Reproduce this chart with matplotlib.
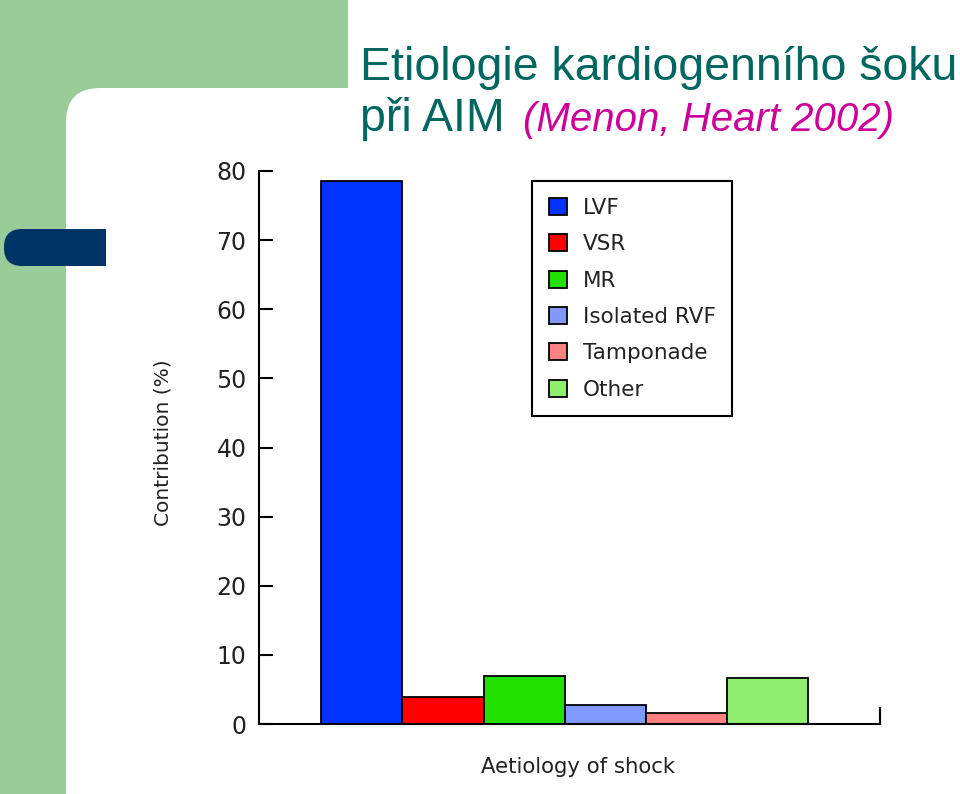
import matplotlib
matplotlib.use("Agg")
import matplotlib.pyplot as plt
from matplotlib.patches import Rectangle, FancyBboxPatch
from matplotlib.transforms import IdentityTransform

plt.rcParams["font.family"] = ["DejaVu Sans"]

categories = ["LVF", "VSR", "MR", "Isolated RVF", "Tamponade", "Other"]
values = [78.5, 3.9, 6.9, 2.8, 1.6, 6.7]
colors = ["#0033FF", "#FF0000", "#22E000", "#8099FF", "#FF8080", "#90EE70"]
yticks = [0, 10, 20, 30, 40, 50, 60, 70, 80]

W, H = 960, 794
fig = plt.figure(figsize=(W / 100, H / 100), dpi=100)
fig.patch.set_facecolor("white")

# slide background decoration (pixel coords, y from bottom), kept behind the axes
px = IdentityTransform()
green = "#99CC99"
navy = "#003366"
deco = [
    Rectangle((0, 0), 66, H, facecolor=green),
    Rectangle((0, H - 130), 348, 130, facecolor=green),
    FancyBboxPatch((66, -60), 1000, H - 88 + 60,
                   boxstyle="round,pad=0,rounding_size=34", facecolor="white"),
    FancyBboxPatch((4, H - 266), 60, 37,
                   boxstyle="round,pad=0,rounding_size=18", facecolor=navy),
    Rectangle((40, H - 266), 66, 37, facecolor=navy),
]
for p in deco:
    p.set_transform(px)
    p.set_edgecolor("none")
    p.set_zorder(-10)
    fig.patches.append(p)

# title
teal = "#006660"
fig.text(360 / W, 1 - 80 / H, "Etiologie kardiogenního šoku", fontsize=33.5,
         family="Liberation Sans", color=teal, ha="left", va="baseline")
fig.text(360 / W, 1 - 131 / H, "při AIM", fontsize=33.5,
         family="Liberation Sans", color=teal, ha="left", va="baseline")
fig.text(523 / W, 1 - 131 / H, "(Menon, Heart 2002)", fontsize=29,
         family="Liberation Sans", style="italic", color="#CC0099", ha="left", va="baseline")

# chart
ax = fig.add_axes([259 / W, 1 - 724 / H, 621 / W, 553 / H])
ax.set_facecolor("none")
x = list(range(len(categories)))
bars = ax.bar(x, values, width=1.0, color=colors, edgecolor="black", linewidth=1.3)
ax.set_xlim(-1.27, 6.39)
ax.set_ylim(0, 80)
ax.set_yticks(yticks)
ax.set_xticks([])
ax.spines["top"].set_visible(False)
ax.spines["right"].set_bounds(0, 2.3)
for s in ["left", "bottom", "right"]:
    ax.spines[s].set_linewidth(1.5)
ax.tick_params(axis="y", direction="in", length=10, width=1.5, pad=9,
               labelsize=17, labelcolor="#222222")

fig.text(163 / W, 1 - 443 / H, "Contribution (%)", rotation=90, fontsize=14.5,
         ha="center", va="center", color="#222222")
fig.text(578 / W, 1 - 767 / H, "Aetiology of shock", fontsize=15.3,
         ha="center", va="center", color="#222222")

leg = ax.legend(bars, categories, loc="upper left",
                bbox_to_anchor=(532 / W, 1 - 181 / H), bbox_transform=fig.transFigure,
                borderaxespad=0, fontsize=15.5, fancybox=False, framealpha=1,
                edgecolor="black", handlelength=0.84, handleheight=0.84,
                handletextpad=0.74, labelspacing=0.76, borderpad=0.78)
leg.get_frame().set_linewidth(1.5)
for t in leg.get_texts():
    t.set_color("#222222")

fig.savefig("out.png", dpi=100)
